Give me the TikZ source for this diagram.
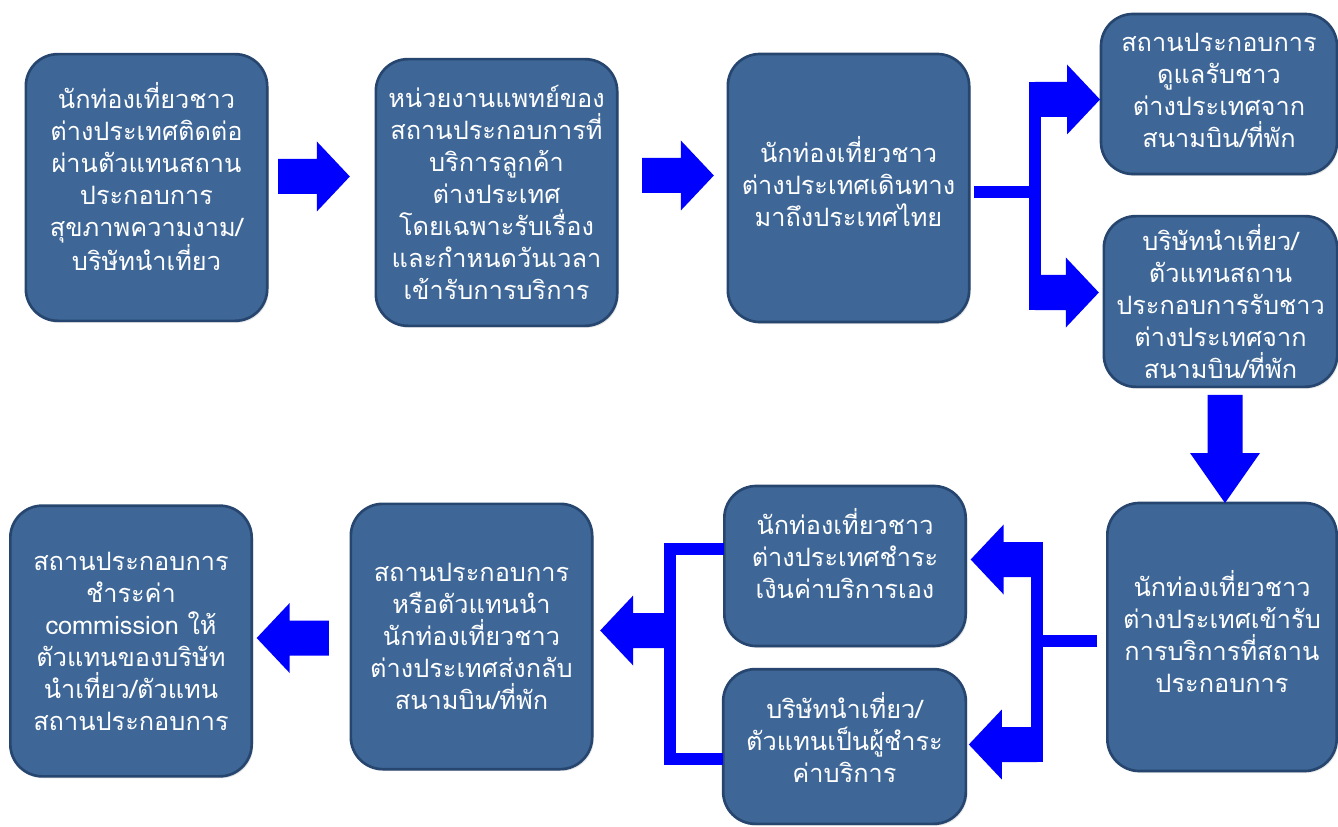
\documentclass[tikz,border=0pt]{standalone}
\usepackage{fontspec}
\newfontfamily\thaifont[Script=Thai]{Loma}
\usetikzlibrary{calc,shadows}

\definecolor{boxblue}{HTML}{3E6797}
\definecolor{boxedge}{HTML}{27466F}
\definecolor{arrowblue}{HTML}{0000FF}

\tikzset{
  box/.style={draw=boxedge, line width=2pt, fill=boxblue, rounded corners=24pt,
    text=white, align=center, inner sep=0pt, outer sep=0pt,
    drop shadow={opacity=0.2, shadow xshift=1.2pt, shadow yshift=-1.5pt},
    font=\thaifont\fontsize{19}{24}\selectfont},
  forkbar/.style={draw=arrowblue, line width=9pt}
}

% fat block arrow from coordinate #2 to coordinate #3, head length #1
\newcommand{\blockarrow}[3][24.75pt]{%
  \fill[arrowblue] ($(#2)!13.125pt!90:(#3)$)
    -- ($(#3)!#1!(#2)!13.125pt!-90:(#2)$) -- ($(#3)!#1!(#2)!26.25pt!-90:(#2)$)
    -- (#3)
    -- ($(#3)!#1!(#2)!26.25pt!90:(#2)$) -- ($(#3)!#1!(#2)!13.125pt!90:(#2)$)
    -- ($(#2)!13.125pt!-90:(#3)$) -- cycle;}

\begin{document}
\begin{tikzpicture}[x=0.75pt,y=0.75pt,yscale=-1,xscale=1]
    \useasboundingbox (0,0) rectangle (1338,827);

    %Shape: Rounded Rect [id:first row]
    \node[box, minimum width=181pt, minimum height=200pt] (b1) at (146.5,187.5)
      {นักท่องเที่ยวชาว\\ต่างประเทศติดต่อ\\ผ่านตัวแทนสถาน\\ประกอบการ\\สุขภาพความงาม/\\บริษัทนำเที่ยว\\[-8pt]};
    \node[box, minimum width=181pt, minimum height=200pt] (b2) at (496.5,192.5)
      {หน่วยงานแพทย์ของ\\สถานประกอบการที่\\บริการลูกค้า\\ต่างประเทศ\\โดยเฉพาะรับเรื่อง\\และกำหนดวันเวลา\\เข้ารับการบริการ};
    \node[box, minimum width=181pt, minimum height=201pt] (b3) at (848.5,188)
      {นักท่องเที่ยวชาว\\ต่างประเทศเดินทาง\\มาถึงประเทศไทย\\[-13.5pt]};
    \node[box, minimum width=177pt, minimum height=120pt] (b4) at (1219,94)
      {สถานประกอบการ\\ดูแลรับชาว\\ต่างประเทศจาก\\สนามบิน/ที่พัก\\[-18pt]};
    \node[box, minimum width=175pt, minimum height=128pt] (b5) at (1220.5,301.5)
      {บริษัทนำเที่ยว/\\ตัวแทนสถาน\\ประกอบการรับชาว\\ต่างประเทศจาก\\สนามบิน/ที่พัก};

    %Shape: Rounded Rect [id:second row]
    \node[box, minimum width=172pt, minimum height=201pt] (b6) at (1222,637)
      {นักท่องเที่ยวชาว\\ต่างประเทศเข้ารับ\\การบริการที่สถาน\\ประกอบการ\\[-15pt]};
    \node[box, minimum width=181pt, minimum height=120pt] (b7) at (845,566)
      {นักท่องเที่ยวชาว\\ต่างประเทศชำระ\\เงินค่าบริการเอง\\[-4.5pt]};
    \node[box, minimum width=182pt, minimum height=116pt] (b8) at (844.5,746.5)
      {บริษัทนำเที่ยว/\\ตัวแทนเป็นผู้ชำระ\\ค่าบริการ\\[-10.5pt]};
    \node[box, minimum width=181pt, minimum height=199pt] (b9) at (471.5,636.5)
      {สถานประกอบการ\\หรือตัวแทนนำ\\นักท่องเที่ยวชาว\\ต่างประเทศส่งกลับ\\สนามบิน/ที่พัก};
    \node[box, minimum width=181pt, minimum height=203pt] (b10) at (131,641)
      {สถานประกอบการ\\ชำระค่า\\commission ให้\\ตัวแทนของบริษัท\\นำเที่ยว/ตัวแทน\\สถานประกอบการ};

    %Block Arrows [id:first row]
    \coordinate (a1s) at ($(b1.east)+(11,-11)$);
    \coordinate (a1e) at ($(b2.west)+(-26,-16)$);
    \blockarrow{a1s}{a1e}
    \coordinate (a2s) at ($(b2.east)+(25,-17)$);
    \coordinate (a2e) at ($(b3.west)+(-14,-12.5)$);
    \blockarrow{a2s}{a2e}

    %Fork [id:to b4 and b5]
    \coordinate (fk1) at ($(b3.east)+(66,4)$);
    \draw[forkbar] ($(b3.east)+(5,4)$) -- (fk1);
    \draw[forkbar] ($(fk1)+(0,-110)$) -- ($(fk1)+(0,118)$);
    \coordinate (a3s) at ($(fk1)+(0,-92.5)$);
    \coordinate (a3e) at ($(b4.west)+(-1,5.5)$);
    \blockarrow{a3s}{a3e}
    \coordinate (a4s) at ($(fk1)+(0,100.5)$);
    \coordinate (a4e) at ($(b5.west)+(-5,-9)$);
    \blockarrow{a4s}{a4e}

    %Block Arrow [id:down]
    \coordinate (a5s) at ($(b5.south)+(4.5,8)$);
    \coordinate (a5e) at ($(b6.north)+(3,0)$);
    \blockarrow[37.5pt]{a5s}{a5e}

    %Fork [id:to b7 and b8]
    \coordinate (fk2) at ($(b6.west)+(-70,4)$);
    \draw[forkbar] ($(b6.west)+(-10,4)$) -- (fk2);
    \draw[forkbar] ($(fk2)+(0,-99)$) -- ($(fk2)+(0,121)$);
    \coordinate (a6s) at ($(fk2)+(0,-81.5)$);
    \coordinate (a6e) at ($(b7.east)+(5,-6.5)$);
    \blockarrow{a6s}{a6e}
    \coordinate (a7s) at ($(fk2)+(0,103.5)$);
    \coordinate (a7e) at ($(b8.east)+(3,-2)$);
    \blockarrow{a7s}{a7e}

    %Bracket [id:b7 and b8 to b9]
    \coordinate (fk3) at ($(b9.east)+(77.5,-6)$);
    \draw[forkbar] ($(b7.west)+(0,-17.5)$) -| (fk3) |- ($(b8.west)+(0,12.5)$);
    \coordinate (a8e) at ($(b9.east)+(8,-6)$);
    \blockarrow{fk3}{a8e}

    %Block Arrow [id:b9 to b10]
    \coordinate (a9s) at ($(b9.west)+(-22,1.5)$);
    \coordinate (a9e) at ($(b10.east)+(5,-3)$);
    \blockarrow{a9s}{a9e}
\end{tikzpicture}
\end{document}
